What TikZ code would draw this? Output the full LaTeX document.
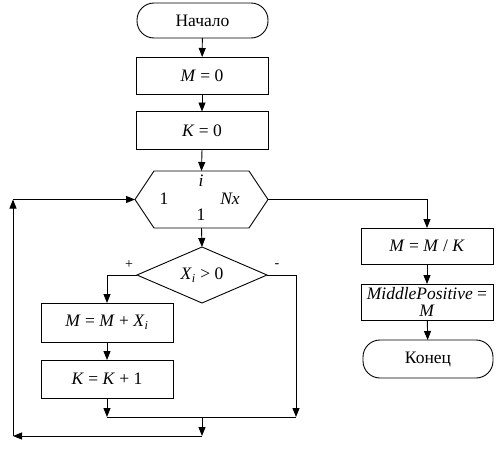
\documentclass[tikz,border=0pt]{standalone}
\usepackage{fontspec}
\setmainfont{Liberation Serif}
\newfontfamily\diagfont{Liberation Serif}
\usetikzlibrary{shapes.geometric,arrows.meta}
\begin{document}
\begin{tikzpicture}[x=1pt,y=-1pt,
  every node/.style={font=\diagfont\fontsize{17.5}{17}\selectfont, inner sep=0pt, outer sep=0pt},
  line/.style={line width=0.9pt},
  arr/.style={line, -{Triangle[length=9pt,width=7pt]}},
  box/.style={draw, line width=0.9pt, rectangle, minimum width=132pt, align=center},
  term/.style={draw, line width=0.9pt, rectangle, rounded corners=17pt, minimum width=131pt},
  dec/.style={draw, line width=0.9pt, diamond, aspect=2.32, minimum width=130pt, minimum height=56pt},
  small/.style={font=\diagfont\fontsize{14}{14}\selectfont}
]
\useasboundingbox (0,0) rectangle (496,450);

% main column
\node[term, minimum height=35pt] (start) at (202.5,20.5) {Начало};
\node[box, minimum height=37pt] (m0) at (202,75.5) {\textit{M} = 0};
\node[box, minimum height=38pt] (k0) at (202,130.5) {\textit{K} = 0};

% loop hexagon
\node[minimum width=133pt, minimum height=57pt] (hex) at (201.5,199.5) {};
\draw[line] (hex.west) -- ([xshift=19pt]hex.north west) -- ([xshift=-19pt]hex.north east)
  -- (hex.east) -- ([xshift=-19pt]hex.south east) -- ([xshift=19pt]hex.south west) -- cycle;
\node (hi) at (201,181) {\textit{i}};
\node (h1) at (164,199) {1};
\node (hn) at (230,199) {\textit{Nx}};
\node (hs) at (201,215) {1};

\node[dec] (dia) at (202,275) {\textit{X}\textsubscript{\textit{i}} > 0};
\node[small] (plus) at (129,265) {+};
\node[small] (minus) at (277,266) {-};

\node[box, minimum height=39pt] (mx) at (107,322.5) {\textit{M} = \textit{M} + \textit{X}\textsubscript{\textit{i}}};
\node[box, minimum height=38pt] (kk) at (107,379) {\textit{K} = \textit{K} + 1};

% right column
\node[box, minimum height=36pt] (mk) at (427,246) {\textit{M} = \textit{M} / \textit{K}};
\node[box, minimum height=36pt] (mp) at (427,302) {\textit{MiddlePositive} =\\\textit{M}};
\node[term, minimum height=38pt, minimum width=130pt] (end) at (428,359) {Конец};

% junction coordinates
\coordinate (jl) at (107,417);
\coordinate (jr) at (296,417);
\coordinate (jm) at (202,417);
\coordinate (bm) at (202,436);
\coordinate (bl) at (13,436);
\coordinate (tl) at (13,199.5);

% connectors
\draw[arr] (start) -- (m0);
\draw[arr] (m0) -- (k0);
\draw[arr] (k0.south) -- (hex.north);
\draw[arr] (hex.south) -- (dia.north);
\draw[arr] (dia.west) -| (mx.north);
\draw[arr] (mx) -- (kk);
\draw[arr] (kk.south) -- (jl);
\draw[arr] (dia.east) -| (jr);
\draw[line] (jl) -- (jr);
\draw[arr] (jm) -- (bm);
\draw[arr] (bm) -- (bl);
\draw[arr] (bl) -- (tl);
\draw[arr] (tl) -- (hex.west);
\draw[arr] (hex.east) -| (mk.north);
\draw[arr] (mk) -- (mp);
\draw[arr] (mp) -- (end);
\end{tikzpicture}
\end{document}
